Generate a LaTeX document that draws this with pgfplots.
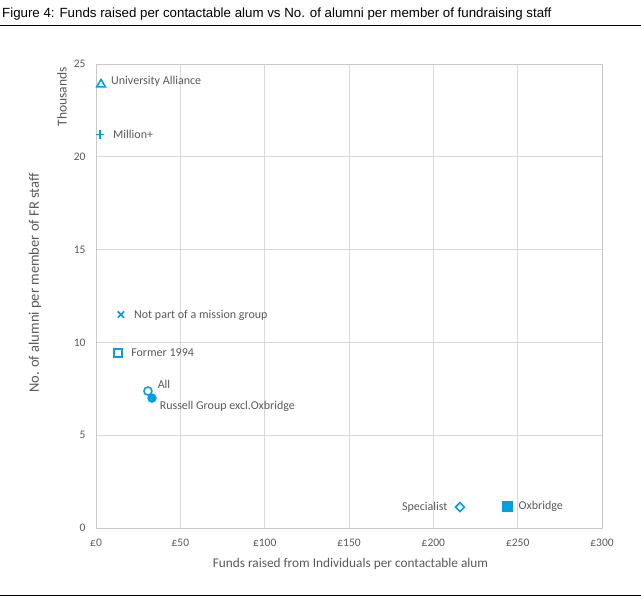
\documentclass[border=0pt]{standalone}
\usepackage{pgfplots}
\pgfplotsset{compat=1.18}
\usepackage{fontspec}
\setmainfont{Carlito}
\newfontfamily\arialfont{Liberation Sans}
\definecolor{mblue}{HTML}{00A0E3}
\definecolor{tgray}{HTML}{595959}
\definecolor{ggray}{HTML}{D9D9D9}
\definecolor{agray}{HTML}{C8C8C8}
\begin{document}
\begin{tikzpicture}[x=1pt,y=1pt]
\path[use as bounding box] (0,0) rectangle (641,603);
\node[anchor=west,font=\arialfont\fontsize{13.3}{15}\selectfont,inner sep=0pt] at (2,589) {Figure 4: Funds raised per contactable alum vs No. of alumni per member of fundraising staff};
\draw[black,line width=1pt] (0,577) -- (641,577);
\draw[black,line width=1pt] (0,7) -- (641,7);
\begin{axis}[
  at={(96pt,75pt)}, anchor=south west,
  scale only axis, width=506pt, height=464pt,
  xmin=0, xmax=300, ymin=0, ymax=25,
  xtick={0,50,100,150,200,250,300},
  xticklabels={£0,£50,£100,£150,£200,£250,£300},
  ytick={0,5,10,15,20,25},
  yticklabels={0,5,10,15,20,25},
  grid=major, major grid style={ggray, line width=0.8pt},
  axis line style={agray, line width=0.9pt},
  tick style={draw=none},
  ticklabel style={font=\fontsize{11.5}{13}\selectfont, text=tgray},
  xticklabel style={yshift=-8pt},
  yticklabel style={xshift=-7pt},
  clip=false,
  mark options={solid},
]
\addplot[only marks, mark=triangle, mark size=5pt, mblue, line width=1.6pt] coordinates {(3,23.9)};
\addplot[only marks, mark=+, mark size=4.3pt, mblue, line width=1.6pt] coordinates {(2.4,21.2)};
\addplot[only marks, mark=x, mark size=4.5pt, mblue, line width=1.7pt] coordinates {(14.8,11.5)};
\addplot[only marks, mark=square, mark size=4pt, mblue, line width=1.6pt] coordinates {(13,9.43)};
\addplot[only marks, mark=*, mark size=4.5pt, mblue, fill=mblue] coordinates {(33.2,7.0)};
\addplot[only marks, mark=o, mark size=4pt, mblue, line width=1.6pt, fill=white] coordinates {(30.8,7.38)};
\addplot[only marks, mark=square, mark size=3.1pt, mark options={rotate=45}, mblue, line width=1.6pt] coordinates {(215.8,1.13)};
\addplot[only marks, mark=square*, mark size=5pt, mblue, fill=mblue] coordinates {(243.6,1.19)};
\begin{scope}[every node/.style={font=\fontsize{12}{14}\selectfont, text=tgray, inner sep=0pt}]
\node[anchor=west] at (axis cs:8.9,24.05) {University Alliance};
\node[anchor=west] at (axis cs:10.1,21.2) {Million+};
\node[anchor=west] at (axis cs:22.5,11.45) {Not part of a mission group};
\node[anchor=west] at (axis cs:20.8,9.45) {Former 1994};
\node[anchor=west] at (axis cs:36.5,7.75) {All};
\node[anchor=west] at (axis cs:37.7,6.55) {Russell Group excl.Oxbridge};
\node[anchor=east] at (axis cs:208.5,1.1) {Specialist};
\node[anchor=west] at (axis cs:250.5,1.15) {Oxbridge};
\end{scope}
\end{axis}
\node[rotate=90,font=\fontsize{14.5}{16}\selectfont,text=tgray] at (35,320) {No. of alumni per member of FR staff};
\node[rotate=90,font=\fontsize{13.5}{15}\selectfont,text=tgray] at (62,506) {Thousands};
\node[font=\fontsize{13.3}{15}\selectfont,text=tgray] at (350.5,39) {Funds raised from Individuals per contactable alum};
\end{tikzpicture}
\end{document}
